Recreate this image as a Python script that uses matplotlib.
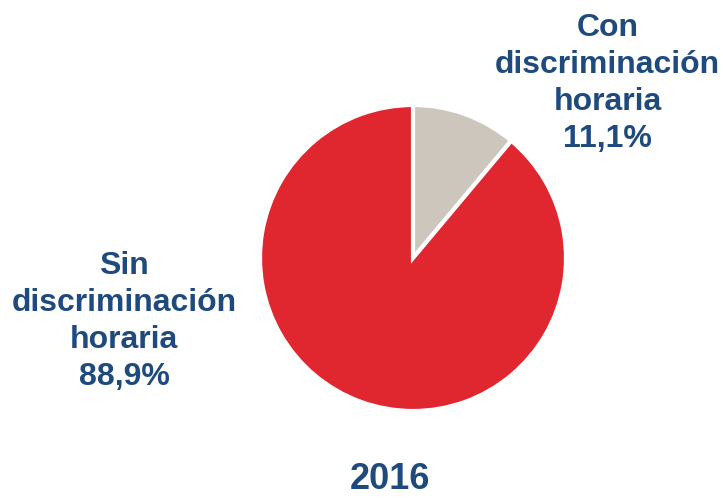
import matplotlib
matplotlib.use("Agg")
import matplotlib.pyplot as plt

labels = ["Con\ndiscriminación\nhoraria\n11,1%", "Sin\ndiscriminación\nhoraria\n88,9%"]
values = [11.1, 88.9]
colors = ["#CCC6BC", "#E0262F"]
year = "2016"
text_color = "#1F4A7D"

W, H = 723, 498
fig = plt.figure(figsize=(W / 100, H / 100), dpi=100)
fig.patch.set_facecolor("white")

# pie axes: center (413, 258) px, radius 153 px
cx, cy, r = 413, 258, 153
ax = fig.add_axes([(cx - r) / W, (H - cy - r) / H, 2 * r / W, 2 * r / H])
ax.pie(values, colors=colors, startangle=90, counterclock=False,
       radius=1.0, wedgeprops=dict(edgecolor="white", linewidth=3))
ax.set_xlim(-1, 1)
ax.set_ylim(-1, 1)
ax.set_aspect("equal")
ax.axis("off")

font = dict(family=["Liberation Sans", "DejaVu Sans"], weight="bold",
            color=text_color, ha="center", va="baseline", linespacing=1.3)

# va="baseline" aligns the baseline of the last line
fig.text(607.5 / W, 1 - 147 / H, labels[0], fontsize=23, **font)
fig.text(124 / W, 1 - 385 / H, labels[1], fontsize=23, **font)
fig.text(390 / W, 1 - 489 / H, year, fontsize=26, **font)

fig.savefig("out.png", dpi=100, facecolor="white")
